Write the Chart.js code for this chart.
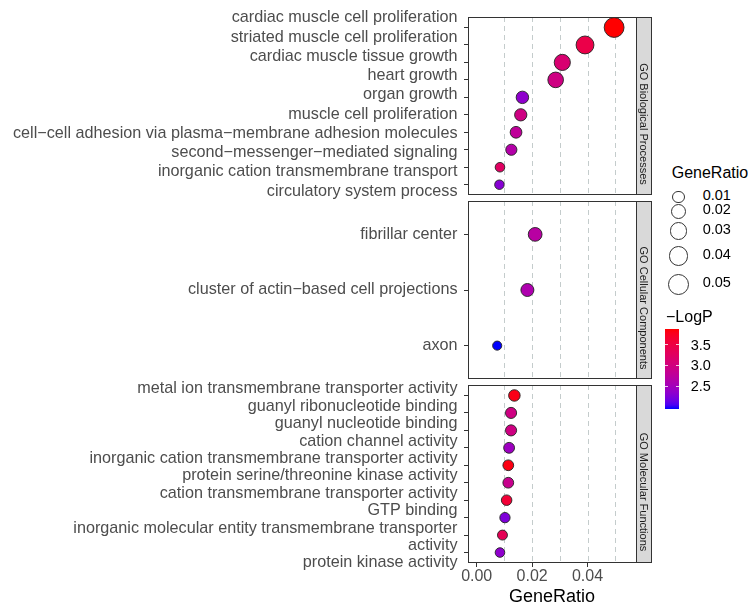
<!DOCTYPE html>
<html><head><meta charset="utf-8">
<script src="https://cdn.jsdelivr.net/npm/chart.js@4.4.1/dist/chart.umd.min.js"></script>
<style>
html,body{margin:0;padding:0;background:#fff;width:748px;height:604px;overflow:hidden;font-family:"Liberation Sans",Arial,sans-serif;}
#root{position:relative;width:748px;height:604px;}
canvas{position:absolute;left:0;}
.lg{position:absolute;white-space:nowrap;line-height:1;transform:translateY(-50%);color:#000;}
</style></head>
<body><div id="root"></div>
<script>
// ---------------- data ----------------
const panelTitles = ['GO Biological Processes', 'GO Cellular Components', 'GO Molecular Functions'];

const bpTerms = ['cardiac muscle cell proliferation','striated muscle cell proliferation','cardiac muscle tissue growth','heart growth','organ growth','muscle cell proliferation','cell\u2212cell adhesion via plasma\u2212membrane adhesion molecules','second\u2212messenger\u2212mediated signaling','inorganic cation transmembrane transport','circulatory system process'];
const bpRatio = [0.0496, 0.0391, 0.0309, 0.0285, 0.0165, 0.0159, 0.0142, 0.0125, 0.0084, 0.0082];
const bpLogP  = [3.88, 3.45, 3.12, 2.97, 2.35, 2.97, 2.78, 2.65, 3.25, 2.3];

const ccTerms = ['fibrillar center','cluster of actin\u2212based cell projections','axon'];
const ccRatio = [0.0211, 0.0183, 0.0074];
const ccLogP  = [2.7, 2.6, 1.95];

const mfTerms = ['metal ion transmembrane transporter activity','guanyl ribonucleotide binding','guanyl nucleotide binding','cation channel activity','inorganic cation transmembrane transporter activity','protein serine/threonine kinase activity','cation transmembrane transporter activity','GTP binding','inorganic molecular entity transmembrane transporter activity','protein kinase activity'];
const mfRatio = [0.0136, 0.0124, 0.0124, 0.0117, 0.0114, 0.0114, 0.0108, 0.0102, 0.0093, 0.0084];
const mfLogP  = [3.8, 2.97, 2.97, 2.45, 3.82, 2.88, 3.6, 2.25, 3.35, 2.35];

const xTickValues = [0, 0.02, 0.04];
const refLineValues = [0.01, 0.02, 0.03, 0.04, 0.05];
const sizeBreaks = [0.01, 0.02, 0.03, 0.04, 0.05];
const colorBreaks = [2.5, 3.0, 3.5];

// ---------------- layout / style ----------------
const FONT = '"Liberation Sans", Arial, sans-serif';
const CW = 660, PANEL_LEFT = 468, PANEL_RIGHT = 636, STRIP_W = 15, STRIP_TEXT_SHIFT = 18;
const X_MIN = -0.00314, X_MAX = 0.0575;
const EXPAND = 0.6;
const LOW = [0, 0, 255], HIGH = [255, 0, 0];

// ---------------- helpers ----------------
function toLab(rgb){
  const lin = rgb.map(c => { c /= 255; return c <= 0.04045 ? c/12.92 : Math.pow((c+0.055)/1.055, 2.4); });
  const X = (0.4124564*lin[0] + 0.3575761*lin[1] + 0.1804375*lin[2]) / 0.95047;
  const Y = (0.2126729*lin[0] + 0.7151522*lin[1] + 0.0721750*lin[2]);
  const Z = (0.0193339*lin[0] + 0.1191920*lin[1] + 0.9503041*lin[2]) / 1.08883;
  const f = t => t > 216/24389 ? Math.cbrt(t) : (24389/27*t + 16)/116;
  const fx = f(X), fy = f(Y), fz = f(Z);
  return [116*fy - 16, 500*(fx - fy), 200*(fy - fz)];
}
function fromLab(lab){
  const [L, a, b] = lab;
  const fy = (L+16)/116, fx = fy + a/500, fz = fy - b/200;
  const finv = t => { const t3 = t*t*t; return t3 > 216/24389 ? t3 : (116*t - 16)/(24389/27); };
  const X = finv(fx)*0.95047, Y = finv(fy), Z = finv(fz)*1.08883;
  const r = 3.2404542*X - 1.5371385*Y - 0.4985314*Z;
  const g = -0.9692660*X + 1.8760108*Y + 0.0415560*Z;
  const bl = 0.0556434*X - 0.2040259*Y + 1.0572252*Z;
  const gam = c => { c = c <= 0.0031308 ? 12.92*c : 1.055*Math.pow(c, 1/2.4) - 0.055; return Math.round(Math.min(1, Math.max(0, c))*255); };
  return `rgb(${gam(r)},${gam(g)},${gam(bl)})`;
}
const labLow = toLab(LOW), labHigh = toLab(HIGH);
const allLogP = bpLogP.concat(ccLogP, mfLogP);
const cMin = Math.min(...allLogP), cMax = Math.max(...allLogP);
function colorFor(v){
  const t = Math.max(0, Math.min(1, (v - cMin)/(cMax - cMin)));
  return fromLab(labLow.map((l, i) => l + (labHigh[i] - l)*t));
}
function sizeFor(v){ return 78.3*Math.sqrt(v) + 3.3; } // visual diameter px
function wrapLabel(s, width){
  const words = s.split(' '); const lines = []; let cur = '';
  words.forEach(w => {
    if (cur && (cur + ' ' + w).length > width) { lines.push(cur); cur = w; }
    else cur = cur ? cur + ' ' + w : w;
  });
  if (cur) lines.push(cur);
  return lines.length > 1 ? lines : lines[0];
}
function slotPositions(labels){
  let s = 0;
  return labels.map(l => { const k = Array.isArray(l) ? l.length : 1; const c = s + (k-1)/2; s += k; return c; });
}

const panelDecor = {
  id: 'panelDecor',
  beforeDatasetsDraw(chart){
    const {ctx, chartArea: a, scales: {x}} = chart;
    ctx.save();
    ctx.strokeStyle = '#C4CCCC'; ctx.lineWidth = 1; ctx.setLineDash([5, 4]);
    refLineValues.forEach(v => {
      const px = Math.round(x.getPixelForValue(v)) + 0.5;
      ctx.beginPath(); ctx.moveTo(px, a.top); ctx.lineTo(px, a.bottom); ctx.stroke();
    });
    ctx.restore();
  },
  afterDraw(chart, args, opts){
    const {ctx, chartArea: a} = chart;
    ctx.save();
    ctx.lineWidth = 1; ctx.strokeStyle = '#333333';
    const L = Math.round(a.left) + 0.5, T = Math.round(a.top) + 0.5;
    const R = Math.round(a.right) + 0.5, B = Math.round(a.bottom) - 0.5;
    ctx.strokeRect(L, T, R - L, B - T);
    ctx.fillStyle = '#D9D9D9';
    ctx.fillRect(R, T, STRIP_W, B - T);
    ctx.strokeRect(R, T, STRIP_W, B - T);
    ctx.translate(R + STRIP_W/2, (T + B)/2 + STRIP_TEXT_SHIFT);
    ctx.rotate(Math.PI/2);
    ctx.fillStyle = '#1A1A1A';
    ctx.font = '11px ' + FONT;
    ctx.textAlign = 'center'; ctx.textBaseline = 'middle';
    ctx.fillText(opts.title, 0, 0.5);
    ctx.restore();
  }
};

const root = document.getElementById('root');
const panels = [
  {title: panelTitles[0], terms: bpTerms, ratio: bpRatio, logp: bpLogP, canvasTop: 0,   padTop: 17, plotH: 179, padBottom: 10, showX: false, labelFirst: 1,   labelLine: 19.33},
  {title: panelTitles[1], terms: ccTerms, ratio: ccRatio, logp: ccLogP, canvasTop: 190, padTop: 11, plotH: 178, padBottom: 8,  showX: false, labelFirst: null, labelLine: null},
  {title: panelTitles[2], terms: mfTerms, ratio: mfRatio, logp: mfLogP, canvasTop: 378, padTop: 7,  plotH: 178, padBottom: 0,  showX: true,  xAxisH: 41, labelFirst: 4, labelLine: 17.4}
];

panels.forEach(p => {
  const n = p.terms.length;
  const canvasH = p.padTop + p.plotH + (p.showX ? p.xAxisH : p.padBottom);
  const canvas = document.createElement('canvas');
  canvas.width = CW; canvas.height = canvasH;
  canvas.style.top = p.canvasTop + 'px';
  canvas.style.width = CW + 'px'; canvas.style.height = canvasH + 'px';
  root.appendChild(canvas);

  const labels = p.terms.map(t => wrapLabel(t, 60));
  const slots = slotPositions(labels);
  const unit = p.plotH / (n - 1 + 2*EXPAND);
  const line = p.labelLine || unit;
  const first = p.labelFirst != null ? p.labelFirst : EXPAND*unit;
  const ylMin = -first/line, ylMax = ylMin + p.plotH/line;

  new Chart(canvas, {
    type: 'bubble',
    data: { datasets: [{
      data: p.ratio.map((r, i) => ({x: r, y: i})),
      backgroundColor: ctx => colorFor(p.logp[ctx.dataIndex]),
      borderColor: '#222222', borderWidth: 0.9,
      radius: ctx => sizeFor(p.ratio[ctx.dataIndex])/2 - 0.45,
      hoverRadius: 0, clip: false,
      xAxisID: 'x', yAxisID: 'y'
    }]},
    options: {
      responsive: false, animation: false, events: [],
      layout: {padding: {top: p.padTop, bottom: p.showX ? 0 : p.padBottom, left: 0, right: CW - PANEL_RIGHT}},
      plugins: {legend: {display: false}, tooltip: {enabled: false}, panelDecor: {title: p.title}},
      scales: {
        x: {
          type: 'linear', min: X_MIN, max: X_MAX, bounds: 'data', display: p.showX, position: 'bottom',
          grid: {display: true, drawOnChartArea: false, drawTicks: true, tickLength: 4, tickColor: '#333333', tickWidth: 1},
          border: {display: false},
          ticks: {font: {family: FONT, size: 16, lineHeight: 1.25}, color: '#4D4D4D', padding: 0, autoSkip: false, maxRotation: 0,
                  callback: v => Number(v).toFixed(2)},
          afterBuildTicks: s => { s.ticks = xTickValues.map(v => ({value: v})); },
          afterFit: s => { if (p.showX) s.height = p.xAxisH; s.paddingLeft = 0; s.paddingRight = 0; },
          title: {display: true, text: 'GeneRatio', color: '#000', font: {family: FONT, size: 18, lineHeight: 0.8}, padding: {top: 0, bottom: 0}}
        },
        y: {
          type: 'linear', reverse: true, min: -EXPAND, max: n - 1 + EXPAND, bounds: 'data', position: 'left', weight: 0,
          grid: {display: true, drawOnChartArea: false, drawTicks: true, tickLength: 4, tickColor: '#333333', tickWidth: 1},
          border: {display: false},
          ticks: {display: false},
          afterBuildTicks: s => { s.ticks = p.terms.map((_, i) => ({value: i})); },
          afterFit: s => { s.width = 4; s.paddingTop = 0; s.paddingBottom = 0; }
        },
        yl: {
          type: 'linear', reverse: true, min: ylMin, max: ylMax, bounds: 'data', position: 'left', weight: 1,
          grid: {display: false, drawTicks: false},
          border: {display: false},
          ticks: {autoSkip: false, padding: 6.5, color: '#4D4D4D', font: {family: FONT, size: 16.2, lineHeight: line/16.2},
                  callback: (v, i) => labels[i]},
          afterBuildTicks: s => { s.ticks = slots.map(v => ({value: v})); },
          afterFit: s => { s.width = PANEL_LEFT - 4; s.paddingTop = 0; s.paddingBottom = 0; }
        }
      }
    },
    plugins: [panelDecor]
  });
});

// ---------------- legends (HTML) ----------------
function addText(text, left, cy, size){
  const d = document.createElement('div');
  d.className = 'lg'; d.textContent = text;
  d.style.left = left + 'px'; d.style.top = cy + 'px'; d.style.fontSize = size + 'px';
  root.appendChild(d);
}
const LEG_TEXT = 14.5;
addText('GeneRatio', 671.7, 172.5, 16);
let keyTop = 191.4;
sizeBreaks.forEach(b => {
  const d = sizeFor(b);
  const kh = 2.07*d - 12.4;
  const cy = keyTop + kh/2;
  const c = document.createElement('div');
  c.style.cssText = `position:absolute;left:${678 - d/2}px;top:${cy - d/2}px;width:${d - 1}px;height:${d - 1}px;border:0.8px solid #333;border-radius:50%;box-sizing:content-box;`;
  root.appendChild(c);
  addText(b.toFixed(2), 702.7, cy - 1.8, LEG_TEXT);
  keyTop += kh;
});

addText('\u2212LogP', 666, 317, 16);
const barTop = 329, barBottom = 409, barLeft = 665, barW = 14;
const stops = [];
for (let i = 0; i <= 20; i++) stops.push(`${colorFor(cMin + (cMax - cMin)*i/20)} ${i*5}%`);
const bar = document.createElement('div');
bar.style.cssText = `position:absolute;left:${barLeft}px;top:${barTop}px;width:${barW}px;height:${barBottom - barTop}px;background:linear-gradient(to top, ${stops.join(',')});`;
root.appendChild(bar);
colorBreaks.forEach(v => {
  const y = barBottom - (v - cMin)/(cMax - cMin)*(barBottom - barTop);
  [barLeft, barLeft + barW - 3].forEach(x => {
    const t = document.createElement('div');
    t.style.cssText = `position:absolute;left:${x}px;top:${y - 0.5}px;width:3px;height:1px;background:rgba(255,255,255,0.8);`;
    root.appendChild(t);
  });
  addText(v.toFixed(1), 690.7, y, LEG_TEXT);
});
</script>
</body></html>
